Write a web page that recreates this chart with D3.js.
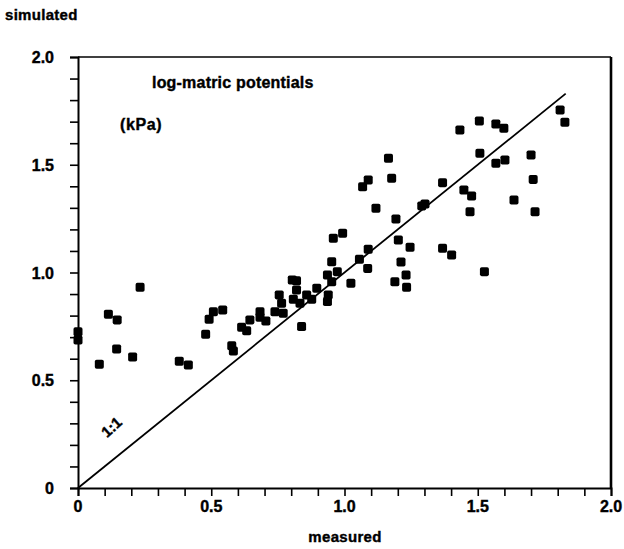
<!DOCTYPE html>
<html><head><meta charset="utf-8">
<script src="https://cdn.jsdelivr.net/npm/d3@7"></script>
<style>body{margin:0;background:#fff}svg{display:block}text{font-family:"Liberation Sans",Arial,sans-serif;font-weight:bold;fill:#000;stroke:#000;stroke-width:0.4}</style>
</head><body><svg id="c" width="624" height="549"></svg>
<script>
const measured = [0,0,0.080,0.114,0.147,0.145,0.205,0.233,0.380,0.414,0.479,0.492,0.508,0.543,0.577,0.583,0.614,0.633,0.645,0.683,0.683,0.705,0.739,0.755,0.764,0.770,0.804,0.820,0.820,0.808,0.833,0.858,0.877,0.896,0.839,0.936,0.939,0.936,0.952,0.973,0.952,0.958,0.993,1.024,1.056,1.089,1.087,1.068,1.089,1.165,1.177,1.118,1.193,1.202,1.246,1.212,1.231,1.189,1.233,1.290,1.302,1.368,1.368,1.402,1.433,1.448,1.477,1.471,1.506,1.508,1.525,1.568,1.598,1.568,1.602,1.636,1.700,1.708,1.715,1.809,1.827];
const simulated = [0.725,0.687,0.574,0.806,0.780,0.645,0.608,0.931,0.588,0.571,0.713,0.783,0.818,0.826,0.660,0.636,0.746,0.730,0.780,0.818,0.792,0.775,0.818,0.896,0.857,0.811,0.965,0.962,0.919,0.876,0.857,0.896,0.876,0.927,0.749,0.865,0.896,0.988,0.957,1.004,1.050,1.159,1.182,0.950,1.061,1.108,1.019,1.398,1.429,1.530,1.437,1.298,1.248,1.151,1.117,1.049,0.988,0.957,0.931,1.309,1.318,1.417,1.112,1.081,1.661,1.383,1.355,1.282,1.703,1.553,1.004,1.689,1.669,1.507,1.522,1.336,1.545,1.432,1.282,1.754,1.697];
const majorTicks = [0,0.5,1.0,1.5,2.0];
const tickLabels = ["0","0.5","1.0","1.5","2.0"];
const oneToOne = [0,1.83];

const svg = d3.select("#c");
const x = d3.scaleLinear().domain([0,2]).range([78,611]);
const y = d3.scaleLinear().domain([0,2]).range([488,57]);
const minor = d3.range(0,2.0001,0.1);

svg.append("line").attr("x1",x(0)).attr("x2",x(2)).attr("y1",y(2)).attr("y2",y(2)).attr("stroke","#000").attr("stroke-width",1.6);
svg.append("line").attr("x1",x(2)).attr("x2",x(2)).attr("y1",y(2)).attr("y2",y(0)).attr("stroke","#000").attr("stroke-width",2.6);

const xAxis = d3.axisBottom(x).tickValues(minor).tickSize(8).tickFormat("");
const yAxis = d3.axisLeft(y).tickValues(minor).tickSize(8).tickFormat("");
const gx = svg.append("g").attr("transform",`translate(0,${y(0)})`).call(xAxis);
const gy = svg.append("g").attr("transform",`translate(${x(0)},0)`).call(yAxis);
[gx,gy].forEach(g=>{g.select(".domain").attr("stroke","#000").attr("stroke-width",2);g.selectAll(".tick line").attr("stroke","#000").attr("stroke-width",1.6);});

svg.append("g").selectAll("text").data(majorTicks).join("text")
  .attr("x",d=>x(d)).attr("y",y(0)+24).attr("text-anchor","middle").attr("font-size",16).text((d,i)=>tickLabels[i]);
svg.append("g").selectAll("text").data(majorTicks).join("text")
  .attr("x",54).attr("y",d=>y(d)+6).attr("text-anchor","end").attr("font-size",16).text((d,i)=>tickLabels[i]);

svg.append("text").attr("x",345).attr("y",542).attr("text-anchor","middle").attr("font-size",15).attr("letter-spacing","0.3").text("measured");
svg.append("text").attr("x",5).attr("y",20).attr("font-size",15).attr("letter-spacing","0.3").text("simulated");
svg.append("text").attr("x",152).attr("y",88).attr("font-size",16).attr("letter-spacing","0.2").text("log-matric potentials");
svg.append("text").attr("x",120).attr("y",130).attr("font-size",16).attr("letter-spacing","0.6").text("(kPa)");
svg.append("text").attr("transform","translate(115,431) rotate(-42)").attr("text-anchor","middle").attr("font-size",15).text("1:1");

svg.append("line").attr("x1",x(oneToOne[0])).attr("y1",y(oneToOne[0])).attr("x2",x(oneToOne[1])).attr("y2",y(oneToOne[1])).attr("stroke","#000").attr("stroke-width",1.8);

const pts = measured.map((m,i)=>({m,s:simulated[i]}));
svg.append("g").selectAll("rect").data(pts).join("rect")
  .attr("x",d=>x(d.m)-4.5).attr("y",d=>y(d.s)-4.5).attr("width",9).attr("height",9).attr("rx",1.8).attr("fill","#000");
</script></body></html>
